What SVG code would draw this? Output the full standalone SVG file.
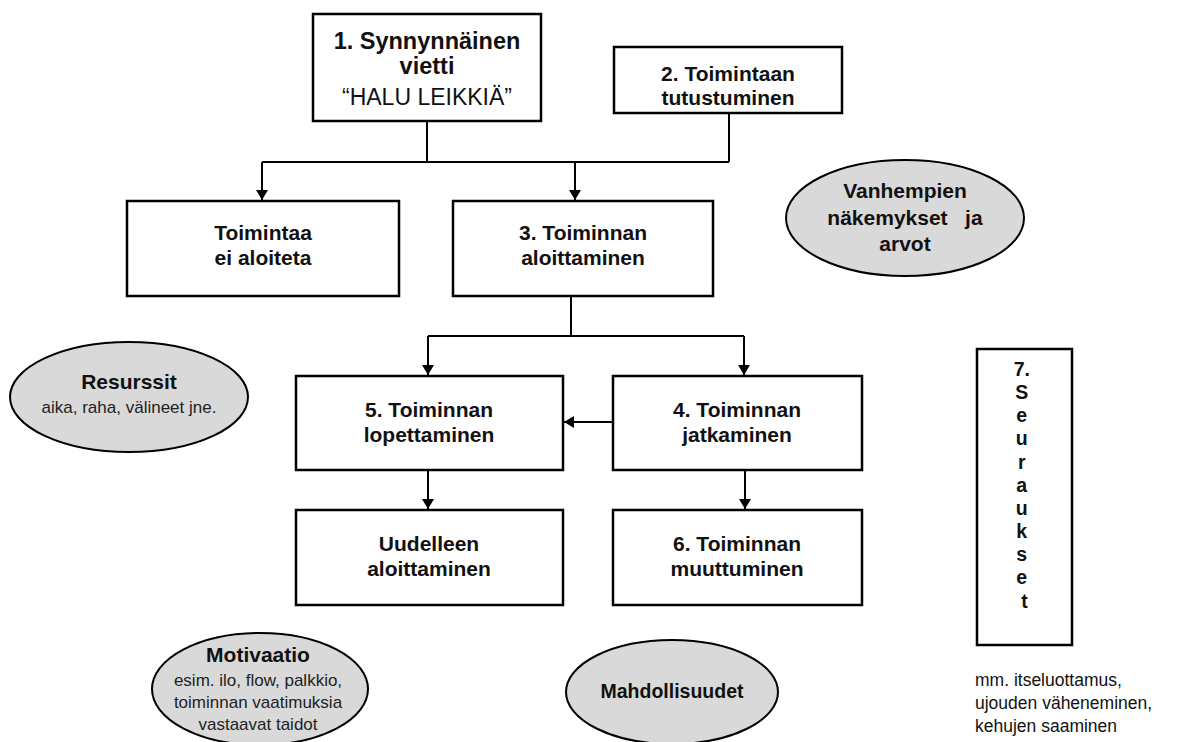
<svg xmlns="http://www.w3.org/2000/svg" width="1195" height="742" viewBox="0 0 1195 742">
<defs>
<marker id="ah" viewBox="0 0 10 12" refX="10" refY="6" markerWidth="11" markerHeight="12" markerUnits="userSpaceOnUse" orient="auto">
<path d="M0,0 L10,6 L0,12 z" fill="#000"/>
</marker>
<style>
.box{fill:#fff;stroke:#000;stroke-width:2.5}
.ell{fill:#d9d9d9;stroke:#000;stroke-width:2}
.t{font-family:"Liberation Sans",Arial,sans-serif;font-weight:bold;font-size:21px;fill:#111;text-anchor:middle}
.tb{font-family:"Liberation Sans",Arial,sans-serif;font-weight:bold;font-size:23.5px;fill:#111;text-anchor:middle}
.tn{font-family:"Liberation Sans",Arial,sans-serif;font-size:23px;fill:#111;text-anchor:middle}
.s{font-family:"Liberation Sans",Arial,sans-serif;font-size:17px;fill:#222;text-anchor:middle}
.r{font-family:"Liberation Sans",Arial,sans-serif;font-size:17.5px;fill:#111}
.v{font-family:"Liberation Sans",Arial,sans-serif;font-weight:bold;font-size:19.5px;fill:#111;text-anchor:middle}
.c{fill:none;stroke:#000;stroke-width:2}
</style>
</defs>
<rect width="1195" height="742" fill="#fff"/>
<g id="connectors">
<path class="c" d="M427,121 V162"/>
<path class="c" d="M729,113 V162"/>
<path class="c" d="M262,162 H729"/>
<path class="c" d="M262,162 V200" marker-end="url(#ah)"/>
<path class="c" d="M575,162 V200" marker-end="url(#ah)"/>
<path class="c" d="M571,296 V336"/>
<path class="c" d="M428,336 H744"/>
<path class="c" d="M428,336 V375" marker-end="url(#ah)"/>
<path class="c" d="M744,336 V375" marker-end="url(#ah)"/>
<path class="c" d="M613,422 H564" marker-end="url(#ah)"/>
<path class="c" d="M428,470 V509" marker-end="url(#ah)"/>
<path class="c" d="M745,470 V509" marker-end="url(#ah)"/>
</g>
<g id="n1">
<rect class="box" x="313" y="14" width="228" height="107"/>
<text class="tb" x="427" y="49">1. Synnynnäinen</text>
<text class="tb" x="427" y="74">vietti</text>
<text class="tn" x="427" y="105">“HALU LEIKKIÄ”</text>
</g>
<g id="n2">
<rect class="box" x="614" y="47" width="228" height="66"/>
<text class="t" x="728" y="81">2. Toimintaan</text>
<text class="t" x="728" y="105">tutustuminen</text>
</g>
<g id="n_ei">
<rect class="box" x="127" y="201" width="272" height="95"/>
<text class="t" x="263" y="240">Toimintaa</text>
<text class="t" x="263" y="265">ei aloiteta</text>
</g>
<g id="n3">
<rect class="box" x="453" y="201" width="260" height="95"/>
<text class="t" x="583" y="240">3. Toiminnan</text>
<text class="t" x="583" y="265">aloittaminen</text>
</g>
<g id="n5">
<rect class="box" x="296" y="376" width="267" height="94"/>
<text class="t" x="429" y="417">5. Toiminnan</text>
<text class="t" x="429" y="442">lopettaminen</text>
</g>
<g id="n4">
<rect class="box" x="613" y="376" width="249" height="94"/>
<text class="t" x="737" y="417">4. Toiminnan</text>
<text class="t" x="737" y="442">jatkaminen</text>
</g>
<g id="n_uud">
<rect class="box" x="296" y="510" width="267" height="95"/>
<text class="t" x="429" y="551">Uudelleen</text>
<text class="t" x="429" y="576">aloittaminen</text>
</g>
<g id="n6">
<rect class="box" x="613" y="510" width="249" height="95"/>
<text class="t" x="737" y="551">6. Toiminnan</text>
<text class="t" x="737" y="576">muuttuminen</text>
</g>
<g id="n7">
<rect class="box" x="977" y="349" width="95" height="296"/>
<text class="v">
<tspan x="1024.5" y="376">7.</tspan>
<tspan x="1024.5" y="399">S</tspan>
<tspan x="1024.5" y="422">e</tspan>
<tspan x="1024.5" y="445">u</tspan>
<tspan x="1024.5" y="469">r</tspan>
<tspan x="1024.5" y="492">a</tspan>
<tspan x="1024.5" y="515">u</tspan>
<tspan x="1024.5" y="538">k</tspan>
<tspan x="1024.5" y="561">s</tspan>
<tspan x="1024.5" y="584">e</tspan>
<tspan x="1024.5" y="608">t</tspan>
</text>
<text class="r" x="975" y="686">mm. itseluottamus,</text>
<text class="r" x="975" y="709">ujouden väheneminen,</text>
<text class="r" x="975" y="732">kehujen saaminen</text>
</g>
<g id="e_vanh">
<ellipse class="ell" cx="905" cy="218" rx="119" ry="58"/>
<text class="t" x="905" y="198">Vanhempien</text>
<text class="t" x="905" y="225" xml:space="preserve">näkemykset   ja</text>
<text class="t" x="905" y="251">arvot</text>
</g>
<g id="e_res">
<ellipse class="ell" cx="129" cy="397" rx="119" ry="55"/>
<text class="t" x="129" y="389">Resurssit</text>
<text class="s" x="129" y="413">aika, raha, välineet jne.</text>
</g>
<g id="e_mot">
<ellipse class="ell" cx="260" cy="689" rx="108" ry="56"/>
<text class="t" x="258" y="662">Motivaatio</text>
<text class="s" x="258" y="686">esim. ilo, flow, palkkio,</text>
<text class="s" x="258" y="708">toiminnan vaatimuksia</text>
<text class="s" x="258" y="730">vastaavat taidot</text>
</g>
<g id="e_mah">
<ellipse class="ell" cx="672" cy="692" rx="106" ry="52"/>
<text class="t" x="672" y="698" style="font-size:19.5px">Mahdollisuudet</text>
</g>
</svg>
